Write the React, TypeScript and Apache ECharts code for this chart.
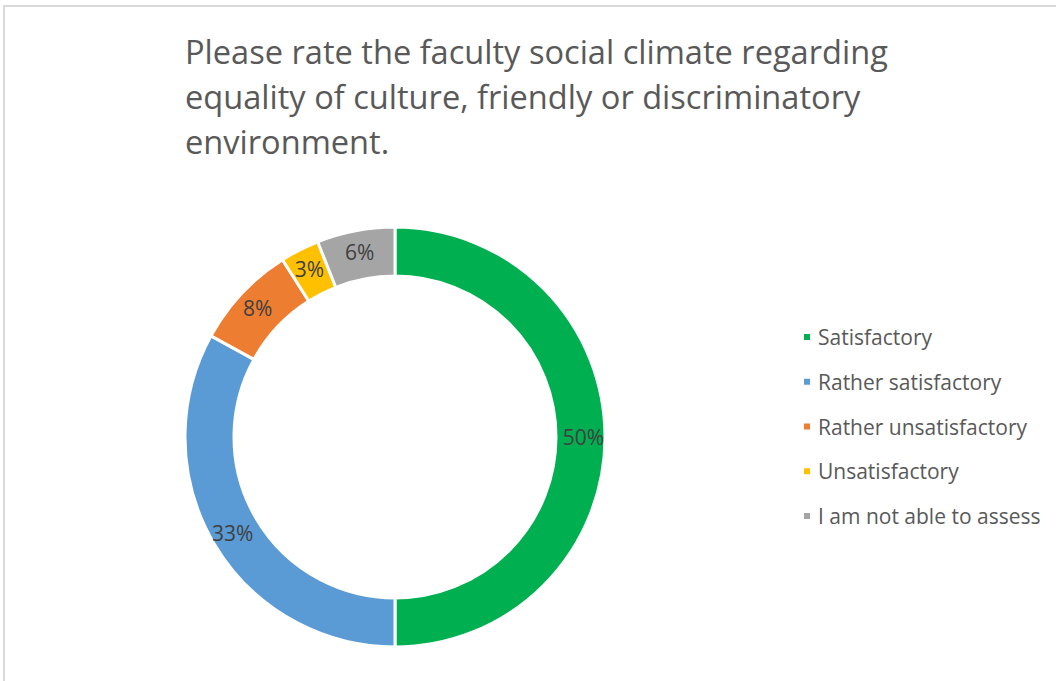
import React, { useEffect, useRef } from "react";
import * as echarts from "echarts";

const categories = [
  "Satisfactory",
  "Rather satisfactory",
  "Rather unsatisfactory",
  "Unsatisfactory",
  "I am not able to assess",
];
const values = [50, 33, 8, 3, 6];
const colors = ["#00b050", "#5b9bd5", "#ed7d31", "#ffc000", "#a5a5a5"];
const titleText =
  "Please rate the faculty social climate regarding\nequality of culture, friendly or discriminatory\nenvironment.";

const FONT = "'Open Sans', 'Noto Sans', sans-serif";

export default function App() {
  const ref = useRef<HTMLDivElement>(null);
  useEffect(() => {
    if (!ref.current) return;
    const chart = echarts.init(ref.current, undefined, { renderer: "svg" });
    chart.setOption({
      animation: false,
      backgroundColor: "#ffffff",
      title: {
        text: titleText,
        left: 180,
        top: 24,
        textStyle: {
          fontFamily: FONT,
          fontSize: 32.6,
          fontWeight: "normal",
          color: "#595959",
          lineHeight: 45,
        },
      },
      graphic: [
        {
          type: "rect",
          shape: { x: 4, y: 6, width: 1200, height: 800 },
          style: { fill: "none", stroke: "#d9d9d9", lineWidth: 2 },
          silent: true,
        },
      ],
      legend: {
        orient: "vertical",
        left: 797,
        top: 321,
        itemWidth: 8,
        itemHeight: 8,
        itemGap: 22.75,
        icon: "rect",
        data: categories,
        textStyle: {
          fontFamily: FONT,
          fontSize: 21,
          color: "#595959",
          lineHeight: 22,
          padding: [0, 0, 0, 2],
        },
      },
      series: [
        {
          type: "pie",
          center: [395, 437],
          radius: [161, 210],
          startAngle: 90,
          clockwise: true,
          avoidLabelOverlap: false,
          itemStyle: { borderColor: "#ffffff", borderWidth: 3 },
          label: {
            show: true,
            position: "inside",
            formatter: "{c}%",
            fontFamily: FONT,
            fontSize: 21,
            color: "#404040",
          },
          labelLine: { show: false },
          emphasis: { disabled: true },
          data: categories.map((name, i) => ({
            name,
            value: values[i],
            itemStyle: { color: colors[i] },
          })),
        },
      ],
    });
    return () => chart.dispose();
  }, []);
  return (
    <div
      ref={ref}
      style={{ position: "absolute", left: 0, top: 0, width: 1056, height: 681 }}
    />
  );
}
